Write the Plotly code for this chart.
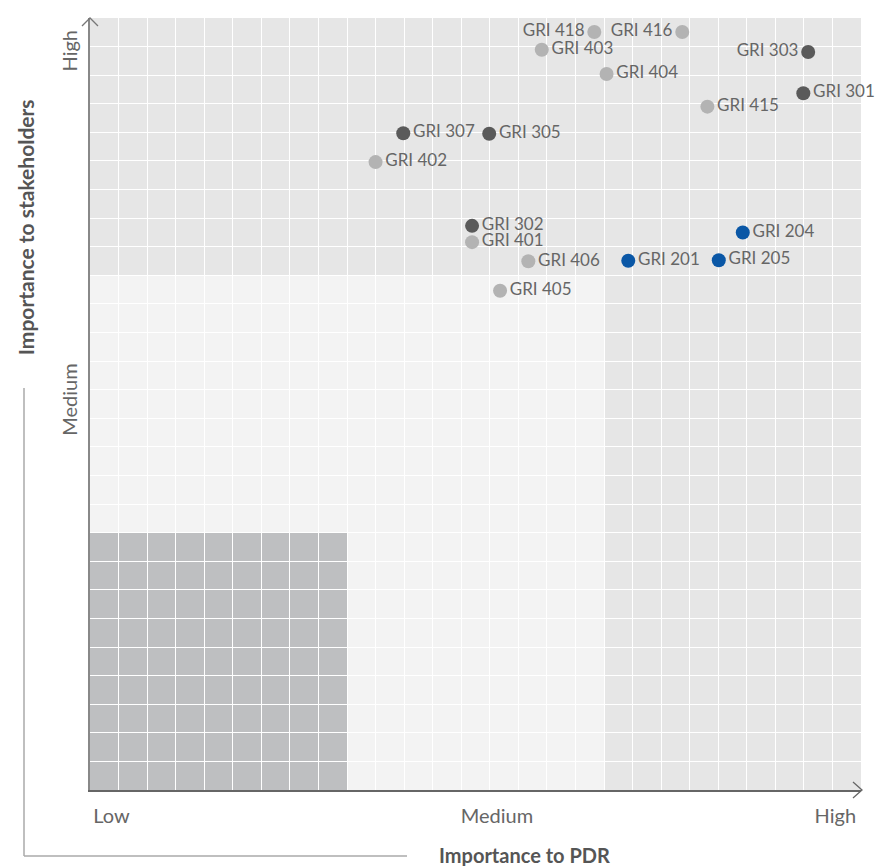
import plotly.graph_objects as go

# ---- data ----
env_labels = ["GRI 303", "GRI 301", "GRI 307", "GRI 305", "GRI 302"]
env_x = [25.15, 24.98, 10.97, 13.98, 13.38]
env_y = [25.81, 24.37, 22.97, 22.95, 19.73]
env_pos = ["middle left", "middle right", "middle right", "middle right", "middle right"]

soc_labels = ["GRI 418", "GRI 416", "GRI 403", "GRI 404", "GRI 415", "GRI 402",
              "GRI 401", "GRI 406", "GRI 405"]
soc_x = [17.66, 20.74, 15.82, 18.09, 21.62, 10.00, 13.38, 15.35, 14.36]
soc_y = [26.51, 26.51, 25.89, 25.04, 23.90, 21.96, 19.16, 18.49, 17.46]
soc_pos = ["middle left", "middle left", "middle right", "middle right", "middle right",
           "middle right", "middle right", "middle right", "middle right"]

eco_labels = ["GRI 204", "GRI 201", "GRI 205"]
eco_x = [22.86, 18.85, 22.02]
eco_y = [19.50, 18.51, 18.53]
eco_pos = ["middle right", "middle right", "middle right"]

x_ticks = [0.75, 14.25, 26.1]
x_ticktext = ["Low", "Medium", "High"]
y_ticks = [13.55, 25.75]
y_ticktext = ["Medium", "High"]

AX_MAX = 27
LOW_MAX = 9
MED_MAX = 18

FONT = "Lato"
TXT = "#666666"

fig = go.Figure()

def add_group(xs, ys, labels, pos, color):
    fig.add_trace(go.Scatter(
        x=xs, y=ys, text=labels, mode="markers+text", textposition=pos,
        marker=dict(size=14, color=color),
        textfont=dict(family=FONT, size=17, color=TXT),
        hoverinfo="text", showlegend=False, cliponaxis=False))

add_group(env_x, env_y, env_labels, env_pos, "#5a5a5a")
add_group(soc_x, soc_y, soc_labels, soc_pos, "#b3b3b3")
add_group(eco_x, eco_y, eco_labels, eco_pos, "#0a57a6")

# background zones
fig.add_shape(type="rect", xref="x", yref="y", x0=0, x1=AX_MAX, y0=0, y1=AX_MAX,
              fillcolor="#e6e6e6", line_width=0, layer="below")
fig.add_shape(type="rect", xref="x", yref="y", x0=0, x1=MED_MAX, y0=0, y1=MED_MAX,
              fillcolor="#f3f3f3", line_width=0, layer="below")
fig.add_shape(type="rect", xref="x", yref="y", x0=0, x1=LOW_MAX, y0=0, y1=LOW_MAX,
              fillcolor="#bebfc1", line_width=0, layer="below")

# arrow heads
fig.add_shape(type="path", xref="paper", yref="paper", xsizemode="pixel", ysizemode="pixel",
              xanchor=0, yanchor=1, path="M -8,-8 L 0,0 L 8,-8",
              line=dict(color="#777777", width=1.3))
fig.add_shape(type="path", xref="paper", yref="paper", xsizemode="pixel", ysizemode="pixel",
              xanchor=1, yanchor=0, path="M -8,8 L 1,0 L -8,-8",
              line=dict(color="#666666", width=1.3))

# bracket lines
fig.add_shape(type="line", xref="paper", yref="paper", x0=-0.0856, x1=-0.0856,
              y0=0.5207, y1=-0.0855, line=dict(color="#aaaaaa", width=1.5))
fig.add_shape(type="line", xref="paper", yref="paper", x0=-0.0856, x1=0.4112,
              y0=-0.0855, y1=-0.0855, line=dict(color="#aaaaaa", width=1.5))

fig.add_annotation(text="<b>Importance to PDR</b>", xref="paper", yref="paper",
                   x=0.563, y=-0.0845, showarrow=False, xanchor="center", yanchor="middle",
                   font=dict(family=FONT, size=20, color="#555555"))
fig.add_annotation(text="<b>Importance to stakeholders</b>", xref="paper", yref="paper",
                   x=-0.0843, y=0.729, showarrow=False, textangle=-90,
                   xanchor="center", yanchor="middle",
                   font=dict(family=FONT, size=21, color="#555555"))

fig.update_xaxes(range=[0, AX_MAX], tickmode="array", tickvals=x_ticks, ticktext=x_ticktext,
                 showgrid=False, zeroline=False, showline=True, linecolor="#666666", linewidth=1.5,
                 ticks="", ticklabelstandoff=7,
                 tickfont=dict(family=FONT, size=20, color=TXT),
                 minor=dict(tickmode="linear", tick0=0, dtick=1, showgrid=True,
                            gridcolor="white", gridwidth=1.2))
fig.update_yaxes(range=[0, AX_MAX], tickmode="array", tickvals=y_ticks, ticktext=y_ticktext,
                 showgrid=False, zeroline=False, showline=True, linecolor="#888888", linewidth=1.5,
                 ticks="", tickangle=-90, ticklabelstandoff=3,
                 tickfont=dict(family=FONT, size=20, color=TXT),
                 minor=dict(tickmode="linear", tick0=0, dtick=1, showgrid=True,
                            gridcolor="white", gridwidth=1.2))

fig.update_layout(width=875, height=866, margin=dict(l=90, r=14, t=18, b=76),
                  plot_bgcolor="white", paper_bgcolor="white",
                  font=dict(family=FONT, color=TXT))

# remove the default page margin so the figure fills the window exactly
fig.write_html("out.html", config={"displayModeBar": False},
               post_script="document.body.style.margin='0';document.body.style.overflow='hidden';")
